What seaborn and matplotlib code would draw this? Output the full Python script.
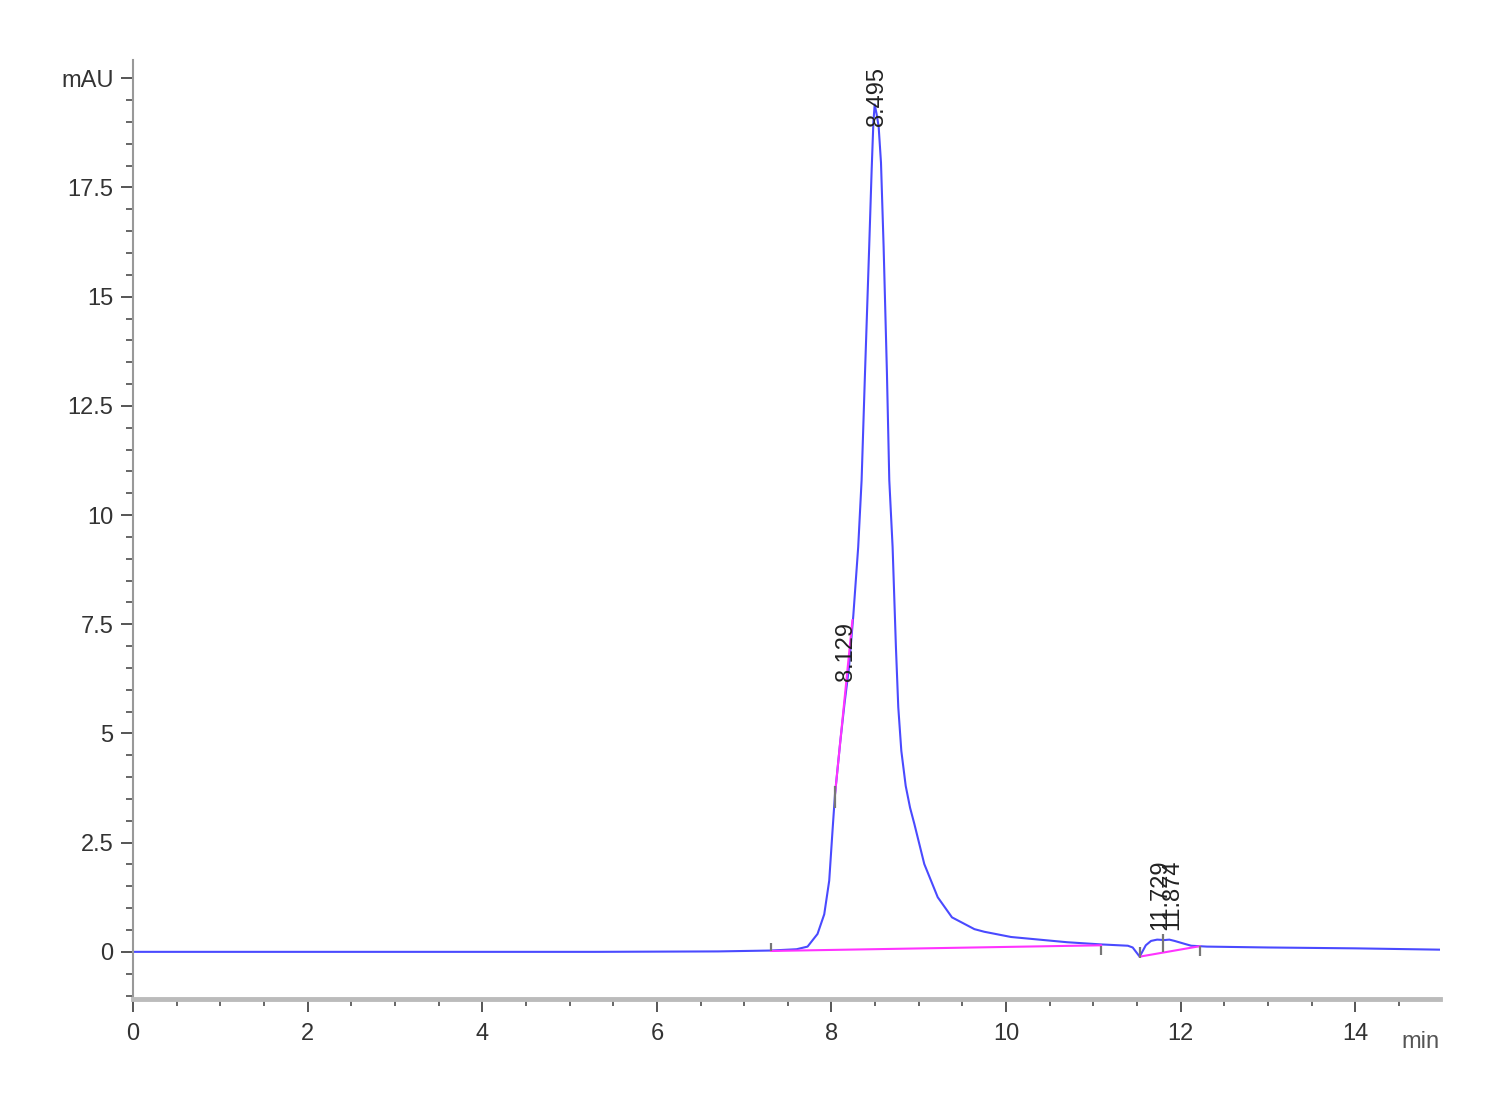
import matplotlib
matplotlib.use("Agg")
import matplotlib.pyplot as plt
import seaborn as sns
import pandas as pd
from matplotlib.ticker import MultipleLocator

# === Data ===
time_min = [0.0, 5.3, 6.7, 7.305, 7.6, 7.726, 7.84, 7.917, 7.974, 8.012, 8.04, 8.10,
            8.15, 8.20, 8.25, 8.306, 8.345, 8.383, 8.432, 8.46, 8.48, 8.495,
            8.515, 8.54, 8.567, 8.597, 8.635, 8.662, 8.70, 8.738, 8.765, 8.80, 8.85,
            8.90, 8.949, 9.063, 9.217, 9.38, 9.637, 9.75, 10.057, 10.325, 10.7, 11.09,
            11.395, 11.45, 11.53, 11.6, 11.66, 11.73, 11.815, 11.87, 11.93, 12.05,
            12.12, 12.3, 13.0, 14.0, 14.97]
signal_mau = [0.0, 0.0, 0.01, 0.03, 0.06, 0.12, 0.41, 0.86, 1.63, 2.78, 3.6, 4.8,
              5.7, 6.5, 7.7, 9.27, 10.8, 13.2, 16.15, 17.9, 19.0, 19.4,
              19.2, 18.9, 18.07, 16.15, 13.26, 10.8, 9.27, 6.98, 5.6, 4.6, 3.8,
              3.3, 2.93, 2.01, 1.25, 0.79, 0.52, 0.46, 0.34, 0.29, 0.22, 0.17,
              0.14, 0.10, -0.11, 0.15, 0.25, 0.28, 0.27, 0.28, 0.25, 0.18,
              0.14, 0.12, 0.10, 0.08, 0.05]

# integration baselines (magenta)
base_main_t = [7.305, 11.09]
base_main_y = [0.02, 0.15]
base_small_t = [11.53, 12.22]
base_small_y = [-0.11, 0.13]
skim_t = [8.04, 8.24]
skim_y = [3.6, 7.6]

# event marks on the trace: time, low, high
mark_t = [7.305, 8.04, 11.09, 11.53, 11.8, 12.22]
mark_lo = [0.02, 3.3, -0.07, -0.13, -0.01, -0.09]
mark_hi = [0.21, 3.8, 0.14, 0.10, 0.41, 0.14]

# peak labels
peak_rt = [8.495, 8.129, 11.729, 11.874]
peak_label_y = [18.9, 6.2, 0.5, 0.5]

x_ticks = [0, 2, 4, 6, 8, 10, 12, 14]
y_ticks = [0, 2.5, 5, 7.5, 10, 12.5, 15, 17.5, 20]
y_tick_labels = ["0", "2.5", "5", "7.5", "10", "12.5", "15", "17.5", "mAU"]

# === Plot ===
sns.set_style("white")
plt.rcParams['font.family'] = ['Liberation Sans', 'DejaVu Sans']

fig = plt.figure(figsize=(15, 11), dpi=100)
ax = fig.add_axes([0.0887, 0.0918, 0.8713, 0.8537])

df = pd.DataFrame({"time": time_min, "signal": signal_mau})
sns.lineplot(data=df, x="time", y="signal", ax=ax, color="#4a4aff", lw=1.5,
             estimator=None, sort=False)

for t, y in [(base_main_t, base_main_y), (base_small_t, base_small_y), (skim_t, skim_y)]:
    sns.lineplot(x=t, y=y, ax=ax, color="#ff33ff", lw=1.5, estimator=None, sort=False)

ax.vlines(mark_t, mark_lo, mark_hi, color="#777777", lw=1.6)

for rt, yl in zip(peak_rt, peak_label_y):
    ax.annotate(f"{rt:.3f}", xy=(rt, yl), xytext=(2, 0), textcoords="offset points",
                rotation=90, ha="center", va="bottom", fontsize=17, color="#222222",
                annotation_clip=False)

ax.set_xlim(0, 14.97)
ax.set_ylim(-1.08, 20.42)
ax.set_xticks(x_ticks)
ax.set_yticks(y_ticks)
ax.set_yticklabels(y_tick_labels)
ax.xaxis.set_minor_locator(MultipleLocator(0.5))
ax.yaxis.set_minor_locator(MultipleLocator(0.5))
ax.set_xlabel("")
ax.set_ylabel("")

for s in ["top", "right"]:
    ax.spines[s].set_visible(False)
ax.spines["left"].set_color("#999999")
ax.spines["left"].set_linewidth(1.5)
ax.spines["bottom"].set_color("#bbbbbb")
ax.spines["bottom"].set_linewidth(3.5)

ax.tick_params(axis="both", which="major", direction="out", length=9, width=1.4,
               color="#555555", labelsize=17, labelcolor="#333333", pad=5)
ax.tick_params(axis="both", which="minor", direction="out", length=5, width=1.4,
               color="#666666")
ax.tick_params(axis="x", which="major", pad=8)
ax.tick_params(left=True, bottom=True, which="both")

for lbl in ax.get_xticklabels() + ax.get_yticklabels():
    lbl.set_family(['Liberation Sans Narrow', 'Liberation Sans', 'DejaVu Sans'])

ax.text(1.0, -0.034, "min", transform=ax.transAxes, ha="right", va="top",
        fontsize=17, color="#555555",
        family=['Liberation Sans Narrow', 'Liberation Sans', 'DejaVu Sans'])

fig.savefig("out.png", dpi=100, facecolor="white")
